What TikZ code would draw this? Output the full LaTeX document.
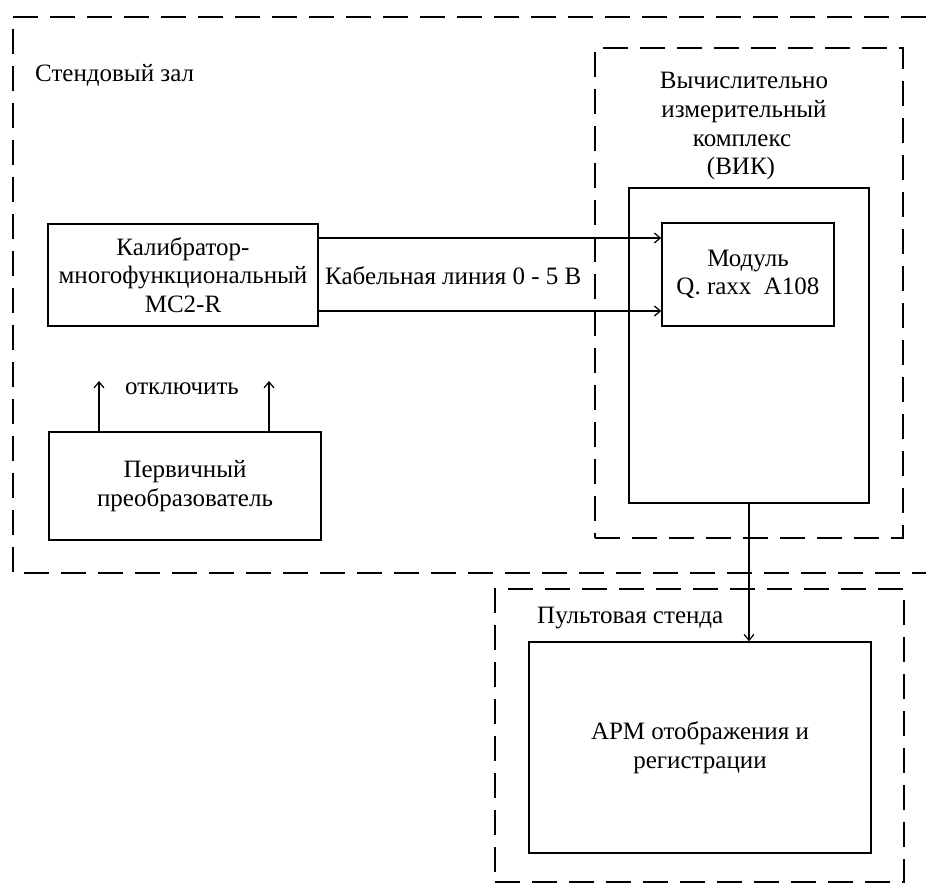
\documentclass[tikz,border=0pt]{standalone}
\usepackage{fontspec}
\setmainfont{Liberation Serif}
\usetikzlibrary{arrows.meta}
\begin{document}
\begin{tikzpicture}[x=1pt,y=-1pt,
  box/.style={draw, line width=1.5pt, inner sep=0pt, align=center,
    font=\fontsize{25}{28.5}\selectfont},
  zone/.style={draw, line width=1.5pt, dash pattern=on 25pt off 12pt, inner sep=0pt},
  lbl/.style={font=\fontsize{25}{28.5}\selectfont, align=center, inner sep=0pt},
  arr/.style={line width=1.2pt, -{Straight Barb[length=6pt,width=10pt]}},
]
\useasboundingbox (0,0) rectangle (926,885);
% outer zone (open to the right)
\draw[line width=1.5pt, dash pattern=on 25pt off 12pt]
  (926,17) -- (13,17) -- (13,573) -- (926,573);
\node[lbl, anchor=base west] (hall) at (35,82) {Стендовый зал};
% VIK zone
\node[zone, minimum width=308pt, minimum height=490pt] (vikzone) at (749,293) {};
\node[lbl, anchor=base] (vikl1) at (744,89) {Вычислительно};
\node[lbl, anchor=base] (vikl2) at (744,118) {измерительный};
\node[lbl, anchor=base] (vikl3) at (742,146.5) {комплекс};
\node[lbl, anchor=base] (vikl4) at (741,175) {(ВИК)};
\node[box, minimum width=240pt, minimum height=315pt] (vik) at (749,345.5) {};
\node[box, minimum width=172pt, minimum height=103pt] (mod) at (748,274.5) {Модуль\\Q. raxx\ \ A108};
% calibrator
\node[box, minimum width=270pt, minimum height=102pt] (cal) at (183,275) {Калибратор-\\многофункциональный\\MC2-R};
\node[lbl, anchor=base west] (cable) at (325,284) {Кабельная линия 0 - 5 В};
\draw[arr] ([yshift=-36pt]cal.east) -- ([yshift=-36pt]cal.east -| mod.west);
\draw[arr] ([yshift=37pt]cal.east) -- ([yshift=37pt]cal.east -| mod.west);
% primary converter
\node[box, minimum width=272pt, minimum height=108pt] (perv) at (185,486) {Первичный\\преобразователь};
\coordinate (offl) at (99,381);
\coordinate (offr) at (269,381);
\draw[arr] (perv.north -| offl) -- (offl);
\draw[arr] (perv.north -| offr) -- (offr);
\node[lbl, anchor=base] (off) at (182,394) {отключить};
% console zone
\node[zone, minimum width=409pt, minimum height=293pt] (pultzone) at (699.5,735.5) {};
\node[lbl, anchor=base west] (pult) at (537,623) {Пультовая стенда};
\node[box, minimum width=342pt, minimum height=211pt] (apm) at (700,747.5) {АРМ отображения и\\регистрации};
\draw[arr] (vik.south) -- (vik.south |- apm.north);
\end{tikzpicture}
\end{document}
